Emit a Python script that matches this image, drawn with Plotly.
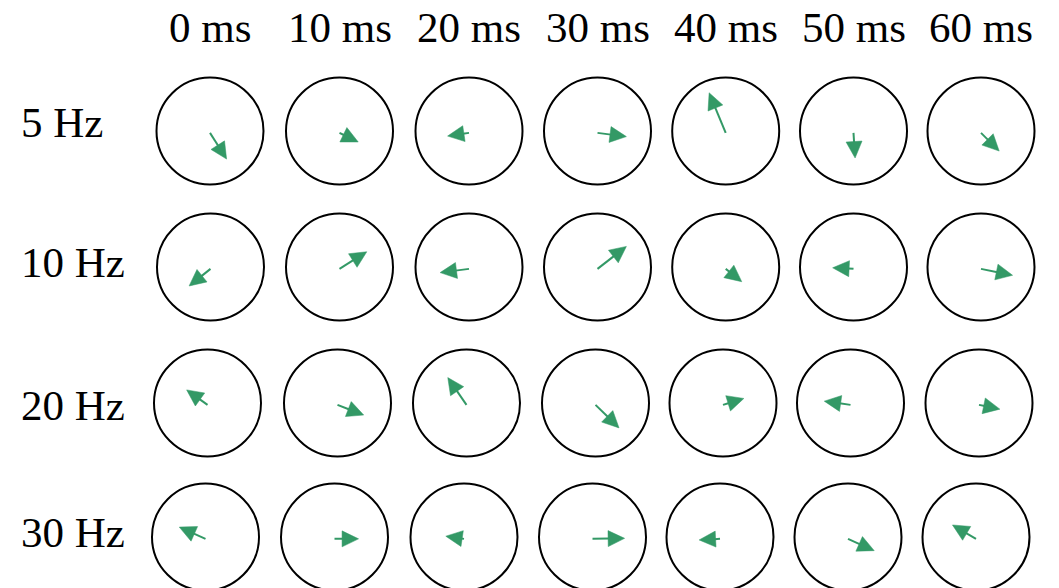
import math
import plotly.graph_objects as go

# ---- data ----
col_labels = ["0 ms", "10 ms", "20 ms", "30 ms", "40 ms", "50 ms", "60 ms"]
row_labels = ["5 Hz", "10 Hz", "20 Hz", "30 Hz"]

# arrow components (east, north) in units of the circle radius
u_5hz = [0.31, 0.35, -0.40, 0.54, -0.31, 0.03, 0.34]
v_5hz = [-0.49, -0.17, -0.06, -0.07, 0.75, -0.47, -0.34]
u_10hz = [-0.40, 0.51, -0.54, 0.54, 0.30, -0.39, 0.59]
v_10hz = [-0.32, 0.32, -0.07, 0.42, -0.24, 0.02, -0.12]
u_20hz = [-0.39, 0.49, -0.35, 0.44, 0.39, -0.49, 0.39]
v_20hz = [0.28, -0.19, 0.51, -0.43, 0.12, 0.07, -0.08]
u_30hz = [-0.49, 0.45, -0.34, 0.60, -0.39, 0.49, -0.44]
v_30hz = [0.22, 0.00, 0.05, 0.01, -0.02, -0.22, 0.26]

U = [u_5hz, u_10hz, u_20hz, u_30hz]
V = [v_5hz, v_10hz, v_20hz, v_30hz]

# ---- layout geometry (pixels, page coordinates; page body has 8px margin) ----
OFF = 8
W, H = 1059 - OFF, 588 - OFF
R = 53.5          # circle radius in px
HALF = 60         # half-size of each cell
row_cy = [131, 267, 403, 537]
row_cx = [
    [210, 339.5, 469, 597.5, 725.7, 853.5, 981],
    [210.5, 339.5, 469, 597.5, 725.7, 853.5, 981],
    [207.5, 337.5, 466.5, 595.5, 723, 850.5, 979],
    [205.5, 334.5, 464, 592.5, 720, 848, 976],
]
label_y = [122, 262, 405, 532]
GREEN = "#339966"
FONT = "Liberation Serif, Times New Roman, serif"
HEAD_LEN = 16.5 / R     # arrow head length (radius units)
HEAD_W = 16.0 / R       # arrow head width (radius units)
TAIL_Y = -0.035         # arrow tail sits just below the circle centre

fig = go.Figure()
layout = dict(
    width=W, height=H,
    margin=dict(l=0, r=0, t=0, b=0),
    paper_bgcolor="white", plot_bgcolor="rgba(0,0,0,0)",
    showlegend=False,
)
shapes = []
annotations = []

for r in range(4):
    cy = row_cy[r] - OFF
    top = cy - HALF
    bot = min(cy + HALF, H)
    for c in range(7):
        k = r * 7 + c + 1
        cx = row_cx[r][c] - OFF
        xa = "x" if k == 1 else f"x{k}"
        ya = "y" if k == 1 else f"y{k}"
        xkey = "xaxis" if k == 1 else f"xaxis{k}"
        ykey = "yaxis" if k == 1 else f"yaxis{k}"
        layout[xkey] = dict(
            domain=[(cx - HALF) / W, (cx + HALF) / W],
            range=[-HALF / R, HALF / R],
            visible=False, fixedrange=True, anchor=ya,
        )
        layout[ykey] = dict(
            domain=[1 - bot / H, 1 - top / H],
            range=[-(bot - cy) / R, (cy - top) / R],
            visible=False, fixedrange=True, anchor=xa,
        )
        shapes.append(dict(
            type="circle", xref=xa, yref=ya, x0=-1, y0=-1, x1=1, y1=1,
            line=dict(color="black", width=2), layer="above",
        ))

        # arrow built from the data vector
        u, v = U[r][c], V[r][c]
        n = math.hypot(u, v)
        dx, dy = u / n, v / n
        px, py = -dy, dx
        tx, ty = 0.0, TAIL_Y
        hx, hy = tx + u, ty + v                          # tip
        bx, by = hx - dx * HEAD_LEN, hy - dy * HEAD_LEN  # head base centre
        if n > HEAD_LEN:
            fig.add_trace(go.Scatter(
                x=[tx, bx + dx * 0.02], y=[ty, by + dy * 0.02], mode="lines",
                line=dict(color=GREEN, width=2), hoverinfo="skip",
                xaxis=xa, yaxis=ya,
            ))
        fig.add_trace(go.Scatter(
            x=[hx, bx + px * HEAD_W / 2, bx - px * HEAD_W / 2, hx],
            y=[hy, by + py * HEAD_W / 2, by - py * HEAD_W / 2, hy],
            mode="lines", fill="toself", fillcolor=GREEN,
            line=dict(color=GREEN, width=0.5), hoverinfo="skip",
            xaxis=xa, yaxis=ya,
        ))

for c, lab in enumerate(col_labels):
    annotations.append(dict(
        x=(row_cx[0][c] - OFF) / W, y=1 - (27 - OFF) / H, xref="paper", yref="paper",
        text=lab, showarrow=False, xanchor="center", yanchor="middle",
        font=dict(family=FONT, size=43, color="black"),
    ))
for r, lab in enumerate(row_labels):
    annotations.append(dict(
        x=(19 - OFF) / W, y=1 - (label_y[r] - OFF) / H, xref="paper", yref="paper",
        text=lab, showarrow=False, xanchor="left", yanchor="middle",
        font=dict(family=FONT, size=43, color="black"),
    ))

layout["shapes"] = shapes
layout["annotations"] = annotations
fig.update_layout(**layout)
fig.write_html("out.html")
